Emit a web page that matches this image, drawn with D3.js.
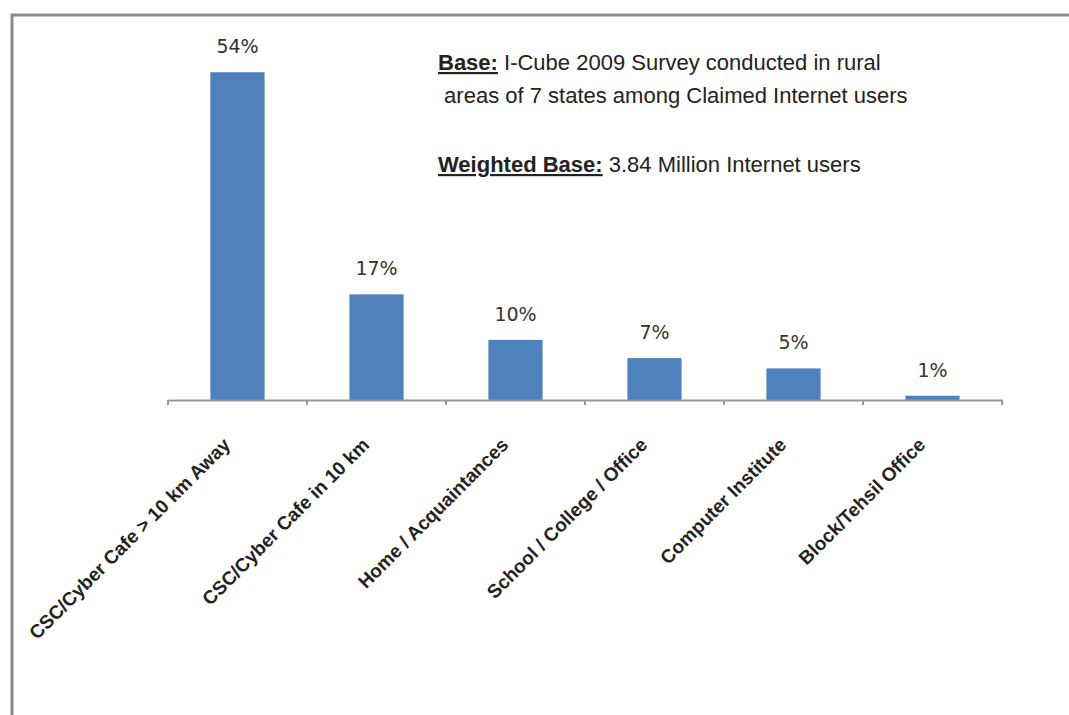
<!DOCTYPE html>
<meta charset="utf-8">
<style>
body { margin: 0; background: #fff; }
.bar { fill: #4f81bd; }
.val { font-family: "DejaVu Sans", sans-serif; font-size: 19px; fill: #333; text-anchor: middle; }
.cat { font-family: "Liberation Sans", sans-serif; font-size: 19px; font-weight: bold; fill: #222; text-anchor: end; }
.note { font-family: "Liberation Sans", sans-serif; font-size: 22px; fill: #222; }
.note .hd { font-weight: bold; text-decoration: underline; }
</style>
<script src="https://d3js.org/d3.v7.min.js"></script>
<body>
<div id="chart"></div>
</body>
<script>

// categories and shares (%)
var categories = [
  "CSC/Cyber Cafe > 10 km Away",
  "CSC/Cyber Cafe in 10 km",
  "Home / Acquaintances",
  "School / College / Office",
  "Computer Institute",
  "Block/Tehsil Office"
];
var shares = [54, 17.4, 9.9, 6.9, 5.2, 0.7];

var noteLines = [
  [["Base:", true], [" I-Cube 2009 Survey conducted in rural", false]],
  [[" areas of 7 states among Claimed Internet users", false]],
  [["Weighted Base:", true], [" 3.84 Million Internet users", false]]
];

var W = 1069, H = 715;
var svg = d3.select("#chart").append("svg")
    .attr("width", W)
    .attr("height", H);

// outer frame (only top & left visible)
svg.append("rect")
    .attr("x", 12).attr("y", 15)
    .attr("width", 1200).attr("height", 900)
    .attr("fill", "none")
    .attr("stroke", "#8a8a8a")
    .attr("stroke-width", 3);

var data = categories.map(function(c, i) { return { cat: c, val: shares[i] }; });

// scales
var x = d3.scaleBand()
    .domain(categories)
    .range([168, 1002])
    .paddingInner(0.61)
    .paddingOuter(0.305);

var y = d3.scaleLinear()
    .domain([0, 60])
    .range([400, 400 - 60 * 6.07]);

// bars
svg.selectAll(".bar")
    .data(data)
  .enter().append("rect")
    .attr("class", "bar")
    .attr("x", function(d) { return x(d.cat); })
    .attr("width", x.bandwidth())
    .attr("y", function(d) { return y(d.val); })
    .attr("height", function(d) { return y(0) - y(d.val); });

// value labels
var fmt = d3.format(".0f");
svg.selectAll(".val")
    .data(data)
  .enter().append("text")
    .attr("class", "val")
    .attr("x", function(d) { return x(d.cat) + x.bandwidth() / 2; })
    .attr("y", function(d) { return y(d.val) - 19; })
    .text(function(d) { return fmt(d.val) + "%"; });

// x axis line with ticks at band boundaries
var axis = svg.append("g")
    .attr("transform", "translate(0," + y(0) + ")")
    .call(d3.axisBottom(x).tickSize(0).tickFormat(""));
axis.select(".domain").attr("stroke", "#999").attr("stroke-width", 2);

var step = x.step();
var bounds = d3.range(categories.length + 1).map(function(i) { return 168 + i * step; });
axis.selectAll(".bt")
    .data(bounds)
  .enter().append("line")
    .attr("class", "bt")
    .attr("x1", function(d) { return d; })
    .attr("x2", function(d) { return d; })
    .attr("y1", 0).attr("y2", 5)
    .attr("stroke", "#999")
    .attr("stroke-width", 2);

// rotated category labels
svg.selectAll(".cat")
    .data(categories)
  .enter().append("text")
    .attr("class", "cat")
    .attr("transform", function(d) {
      return "translate(" + (x(d) + x.bandwidth() / 2 - 6) + "," + (y(0) + 46) + ") rotate(-45)";
    })
    .text(function(d) { return d; });

// annotation
var note = svg.append("text")
    .attr("class", "note")
    .attr("xml:space", "preserve");
var lineY = [70, 103, 172];
noteLines.forEach(function(parts, li) {
  parts.forEach(function(p, pi) {
    var ts = note.append("tspan")
        .text(p[0])
        .classed("hd", p[1]);
    if (pi === 0) ts.attr("x", 438).attr("y", lineY[li]);
  });
});

</script>
